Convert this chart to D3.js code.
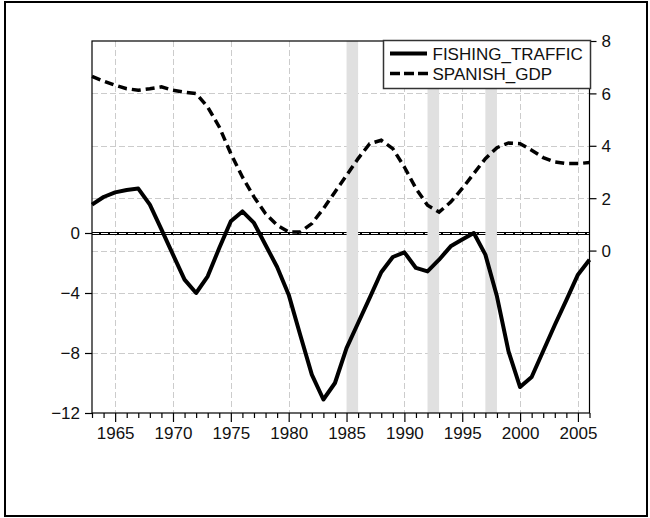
<!DOCTYPE html>
<html>
<head>
<meta charset="utf-8">
<script src="https://cdn.jsdelivr.net/npm/d3@7"></script>
<style>
  html, body { margin: 0; padding: 0; background: #fff; }
  svg { display: block; }
  text { font-family: "Liberation Sans", Arial, sans-serif; }
</style>
</head>
<body>
<svg id="chart" width="650" height="518"></svg>
<script>
const years = d3.range(1963, 2007);
const fishingTraffic = [1.89, 2.4, 2.71, 2.87, 2.96, 1.89, 0.24, -1.44, -3.11, -4.0,
  -2.89, -1.0, 0.78, 1.44, 0.67, -0.8, -2.27, -4.11, -6.8, -9.44,
  -11.1, -10.0, -7.67, -6.0, -4.33, -2.62, -1.6, -1.29, -2.33, -2.56,
  -1.78, -0.89, -0.44, 0.0, -1.44, -4.22, -7.89, -10.27, -9.6, -7.87,
  -6.13, -4.47, -2.78, -1.78];
const spanishGDP = [6.65, 6.47, 6.31, 6.18, 6.12, 6.18, 6.25, 6.12, 6.05, 5.99,
  5.48, 4.72, 3.70, 2.81, 2.05, 1.41, 0.97, 0.71, 0.71, 1.03,
  1.6, 2.24, 2.87, 3.51, 4.08, 4.21, 3.89, 3.19, 2.37, 1.73,
  1.47, 1.85, 2.37, 2.94, 3.51, 3.93, 4.11, 4.08, 3.83, 3.55,
  3.38, 3.32, 3.32, 3.36];
const shadedPeriods = [[1985, 1986], [1992, 1993], [1997, 1998]];
const leftTicks = [-12, -8, -4, 0];
const rightTicks = [0, 2, 4, 6, 8];
const seriesNames = ["FISHING_TRAFFIC", "SPANISH_GDP"];

const svg = d3.select("#chart");
const L = 92, R = 589.5, T = 41, B = 413;
const x = d3.scaleLinear().domain([1963, 2006]).range([L, R]);
const yL = d3.scaleLinear().domain([-12, 12.8]).range([B, T]);
const yR = d3.scaleLinear().domain([-6.2, 8]).range([B, T]);

// outer frame
svg.append("rect").attr("x", 5).attr("y", 2).attr("width", 642).attr("height", 514)
  .attr("fill", "none").attr("stroke", "#000").attr("stroke-width", 2);

// plot background
svg.append("rect").attr("x", L).attr("y", T).attr("width", R - L).attr("height", B - T).attr("fill", "#fff");

const grid = svg.append("g").attr("stroke", "#cccccc").attr("stroke-width", 1).attr("stroke-dasharray", "6,3");
years.filter(d => d % 5 === 0).forEach(d => {
  grid.append("line").attr("x1", Math.round(x(d)) + 0.5).attr("x2", Math.round(x(d)) + 0.5)
    .attr("y1", T).attr("y2", B);
});
rightTicks.filter(d => d < 8).forEach(d => {
  grid.append("line").attr("x1", L).attr("x2", R).attr("y1", Math.round(yR(d)) + 0.5).attr("y2", Math.round(yR(d)) + 0.5);
});
leftTicks.filter(d => d > -12 && d < 0).forEach(d => {
  grid.append("line").attr("x1", L).attr("x2", R).attr("y1", Math.round(yL(d)) + 0.5).attr("y2", Math.round(yL(d)) + 0.5);
});

// zero line (left axis)
const y0 = Math.round(yL(0)) + 0.5;
svg.append("line").attr("x1", L).attr("x2", R).attr("y1", y0).attr("y2", y0)
  .attr("stroke", "#000").attr("stroke-width", 3);
svg.append("line").attr("x1", L).attr("x2", R).attr("y1", y0).attr("y2", y0)
  .attr("stroke", "#fff").attr("stroke-width", 1).attr("stroke-dasharray", "7,2");

// shaded periods
svg.append("g").selectAll("rect").data(shadedPeriods).join("rect")
  .attr("x", d => x(d[0])).attr("width", d => x(d[1]) - x(d[0]))
  .attr("y", T).attr("height", B - T).attr("fill", "#e0e0e0");

// series
const lineL = d3.line().x((d, i) => x(years[i])).y(d => yL(d));
const lineR = d3.line().x((d, i) => x(years[i])).y(d => yR(d));
svg.append("path").datum(spanishGDP).attr("d", lineR).attr("fill", "none")
  .attr("stroke", "#000").attr("stroke-width", 3.5).attr("stroke-dasharray", "9,5");
svg.append("path").datum(fishingTraffic).attr("d", lineL).attr("fill", "none")
  .attr("stroke", "#000").attr("stroke-width", 4).attr("stroke-linejoin", "round");

// plot frame
svg.append("rect").attr("x", L).attr("y", T).attr("width", R - L).attr("height", B - T)
  .attr("fill", "none").attr("stroke", "#000").attr("stroke-width", 1.2);

// axes
const axL = svg.append("g").attr("transform", `translate(${L},0)`)
  .call(d3.axisLeft(yL).tickValues(leftTicks).tickSize(7).tickPadding(5).tickFormat(d3.format("d")));
const axR = svg.append("g").attr("transform", `translate(${R},0)`)
  .call(d3.axisRight(yR).tickValues(rightTicks).tickSize(7).tickPadding(5).tickFormat(d3.format("d")));
const axB = svg.append("g").attr("transform", `translate(0,${B})`)
  .call(d3.axisBottom(x).tickValues(years).tickSize(5).tickFormat(d => d % 5 === 0 ? String(d) : ""));
[axL, axR, axB].forEach(a => {
  a.select(".domain").remove();
  a.selectAll("line").attr("stroke", "#000").attr("stroke-width", 1.2);
  a.selectAll("text").attr("font-size", 17).attr("fill", "#111")
    .attr("font-family", "'Liberation Sans', Arial, sans-serif");
});
axB.selectAll(".tick").filter(d => d % 5 === 0).select("line").attr("y2", 9);
axB.selectAll("text").attr("y", 26).attr("dy", 0);
axL.selectAll("text").attr("dy", "0.35em");
axR.selectAll("text").attr("dy", "0.35em");

// legend
const lg = svg.append("g");
lg.append("rect").attr("x", 383.5).attr("y", 40.5).attr("width", 207).attr("height", 48)
  .attr("fill", "#fff").attr("stroke", "#333").attr("stroke-width", 1.5);
const rowsY = [53.5, 73.5];
lg.append("line").attr("x1", 390).attr("x2", 427).attr("y1", rowsY[0]).attr("y2", rowsY[0])
  .attr("stroke", "#000").attr("stroke-width", 4);
lg.append("line").attr("x1", 390).attr("x2", 428).attr("y1", rowsY[1]).attr("y2", rowsY[1])
  .attr("stroke", "#000").attr("stroke-width", 3.5).attr("stroke-dasharray", "10,4");
seriesNames.forEach((n, i) => {
  lg.append("text").attr("x", 432.5).attr("y", rowsY[i]).attr("dy", "0.36em")
    .attr("font-size", 17).attr("fill", "#111").text(n);
});
</script>
</body>
</html>
